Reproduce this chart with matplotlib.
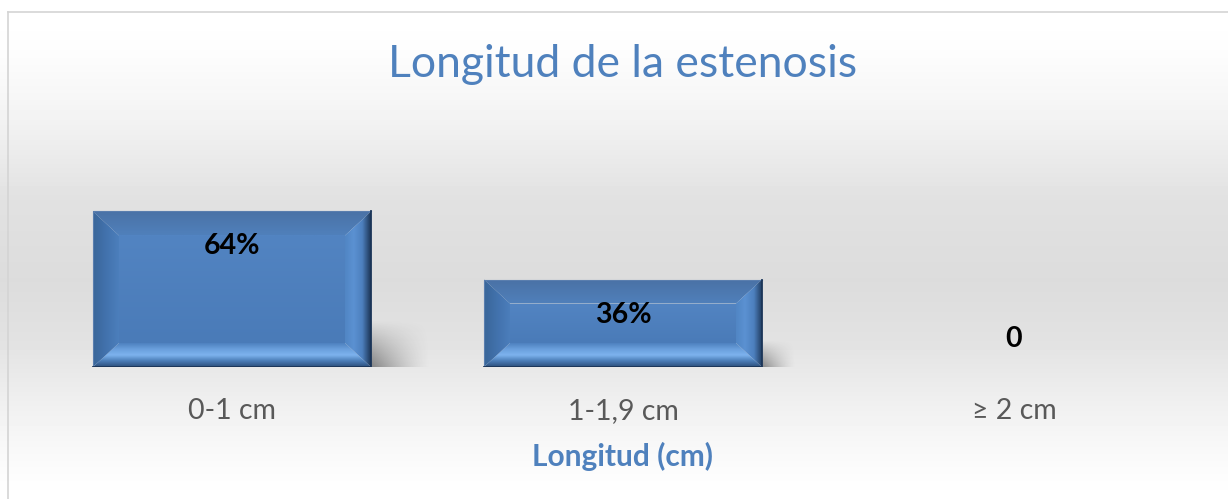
import numpy as np
import matplotlib.pyplot as plt
from matplotlib.patches import Polygon
from matplotlib.colors import to_rgb

# Data
categories = ['0-1 cm', '1-1,9 cm', '≥ 2 cm']
values = [64, 36, 0]
value_labels = ['64%', '36%', '0']

W, H = 1228, 499
plt.rcParams['font.family'] = ['Lato', 'DejaVu Sans']

fig = plt.figure(figsize=(W / 100, H / 100), dpi=100)

# Background: light grey gradient + chart border
bg = fig.add_axes([0, 0, 1, 1], zorder=-10)
ys = np.arange(H)
stop_y = [11, 50, 100, 150, 200, 280, 340, 400, 440, 480, 499]
stop_v = np.array([255, 253, 246, 236, 225, 220, 226, 239, 247, 253, 255]) / 255
col = np.interp(ys, stop_y, stop_v)
img = np.repeat(col[:, None], 2, axis=1)
bg.imshow(img, cmap='gray', vmin=0, vmax=1, extent=[0, W, H, 0], aspect='auto')
bg.plot([7.5, W], [11.5, 11.5], color='#d4d4d4', lw=1.2)
bg.plot([7.5, 7.5], [11.5, H], color='#d4d4d4', lw=1.2)
bg.set_xlim(0, W)
bg.set_ylim(H, 0)
bg.axis('off')

# Plot area
ax = fig.add_axes([36.5 / W, (H - 367) / H, 1173 / W, 243 / H])
ax.set_xlim(-0.5, 2.5)
ax.set_ylim(0, 100)
ax.axis('off')
ax.patch.set_alpha(0)

px_x = 3 / 1173
px_y = 100 / 243
bar_w = 0.711


def grad_fill(pts, extent, colors, axis, z=3):
    cols = np.array([to_rgb(c) for c in colors])
    t = np.linspace(0, 1, 64)
    tc = np.linspace(0, 1, len(cols))
    g = np.stack([np.interp(t, tc, cols[:, k]) for k in range(3)], axis=-1)
    if axis == 'y':
        arr = g[:, None, :].repeat(2, axis=1)
    else:
        arr = g[None, :, :].repeat(2, axis=0)
    im = ax.imshow(arr, extent=extent, origin='lower', aspect='auto',
                   interpolation='bilinear', zorder=z)
    patch = Polygon(pts, closed=True, transform=ax.transData)
    im.set_clip_path(patch)


def bevel_bar(xc, h):
    x0, x1 = xc - bar_w / 2, xc + bar_w / 2
    y0, y1 = 0, h
    bx, by = 26 * px_x, 24 * px_y
    ix0, ix1, iy0, iy1 = x0 + bx, x1 - bx, y0 + by, y1 - by

    # shadow
    sw, sh = 0.38 * h / px_y * px_x, 0.3 * h
    nx, ny = 60, 40
    dx = np.linspace(0, 1, nx)[None, :]
    dy = np.linspace(0, 1, ny)[:, None]
    alpha = 0.55 * (1 - dx) ** 1.4 * np.clip(1 - dy, 0, 1) ** 1.0
    rgba = np.zeros((ny, nx, 4))
    rgba[..., :3] = 0.15
    rgba[..., 3] = alpha
    ax.imshow(rgba, extent=(x1, x1 + sw, y0 - 3 * px_y, y0 + sh), origin='lower',
              aspect='auto', interpolation='bilinear', zorder=2)

    grad_fill([(ix0, iy0), (ix1, iy0), (ix1, iy1), (ix0, iy1)],
              (ix0, ix1, iy0, iy1), ['#4a7bb8', '#5284c2'], 'y')
    grad_fill([(x0, y1), (x1, y1), (ix1, iy1), (ix0, iy1)],
              (x0, x1, iy1, y1), ['#5080bb', '#4a72a6'], 'y')
    grad_fill([(x0, y0), (x1, y0), (ix1, iy0), (ix0, iy0)],
              (x0, x1, y0, iy0), ['#2d4f7c', '#4a7cb6', '#7db3ee', '#6a9fdc', '#4f82c0'], 'y')
    grad_fill([(x0, y0), (x0, y1), (ix0, iy1), (ix0, iy0)],
              (x0, ix0, y0, y1), ['#3a6699', '#4272ad', '#4c7fbc'], 'x')
    grad_fill([(x1, y0), (x1, y1), (ix1, iy1), (ix1, iy0)],
              (ix1, x1, y0, y1), ['#5186c4', '#5b91d2', '#4d80be', '#1d3657'], 'x')
    ax.plot([x0, x0, x1], [y0, y1, y1], color='#5a7eae', lw=0.8, zorder=4)
    ax.plot([x0, x1, x1], [y0, y0, y1], color='#1b3558', lw=1.3, zorder=4)


x = np.arange(len(categories))
for xi, v in zip(x, values):
    if v > 0:
        bevel_bar(xi, v)

for xi, v, lab in zip(x, values, value_labels):
    off = -43 if v > 0 else 20
    ax.annotate(lab, (xi, v), xytext=(0, off * 0.72), textcoords='offset points',
                ha='center', va='baseline', fontsize=20.5, fontweight='bold',
                color='black', zorder=6)

# Category labels
for xi, cat in zip(x, categories):
    ax.text(xi, -52 / 243, cat, transform=ax.get_xaxis_transform(),
            ha='center', va='baseline', fontsize=20.5, color='#595959')

# Axis title and chart title
fig.text(623 / W, 1 - 466 / H, 'Longitud (cm)', ha='center', va='baseline',
         fontsize=21.5, fontweight='bold', color='#4f81bd')
fig.text(623 / W, 1 - 77 / H, 'Longitud de la estenosis', ha='center', va='baseline',
         fontsize=32, color='#4f81bd')

fig.savefig('out.png', dpi=100)
